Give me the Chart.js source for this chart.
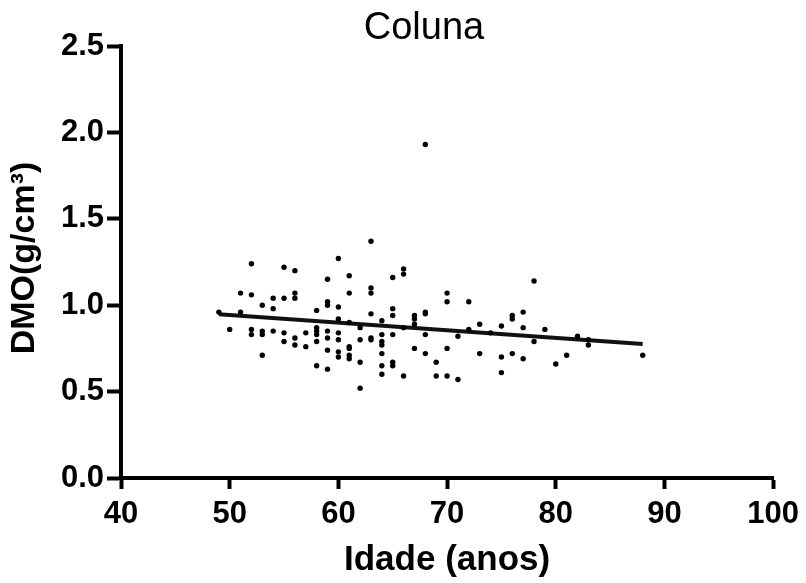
<!DOCTYPE html>
<html>
<head>
<meta charset="utf-8">
<script src="https://cdn.jsdelivr.net/npm/chart.js@4/dist/chart.umd.min.js"></script>
<style>
html,body{margin:0;padding:0;background:#fff;}
#wrap{width:806px;height:583px;position:relative;}
</style>
</head>
<body>
<div id="wrap"><canvas id="c" width="806" height="583"></canvas></div>
<script>
const title = "Coluna";
const xTitle = "Idade (anos)";
const yTitle = "DMO(g/cm³)";
const xTicks = [40, 50, 60, 70, 80, 90, 100];
const yTicks = [0.0, 0.5, 1.0, 1.5, 2.0, 2.5];

const age = [
  49, 50, 51, 51, 52, 52, 52, 52, 53, 53, 53, 53, 54, 54, 54,
  55, 55, 55, 55, 56, 56, 56, 56, 56, 57, 57,
  58, 58, 58, 58, 58, 58, 59, 59, 59, 59, 59, 59, 59,
  60, 60, 60, 60, 60, 60, 60, 61, 61, 61, 61, 61, 61, 61,
  62, 62, 62, 62, 63, 63, 63, 63, 63, 63,
  64, 64, 64, 64, 64, 64, 64, 65, 65, 65, 65, 65, 65,
  66, 66, 66, 66, 67, 67, 67, 67, 68, 68, 68, 68, 68,
  69, 69, 70, 70, 70, 70, 71, 71, 72, 72, 73, 73, 74,
  75, 75, 75, 76, 76, 76, 77, 77, 77, 78, 78, 79, 80, 81, 82, 83, 83, 88
];
const dmo = [
  0.96, 0.86, 1.07, 0.96, 1.24, 1.06, 0.86, 0.83, 1.00, 0.85, 0.83, 0.71, 0.98, 1.04, 0.85,
  1.22, 1.04, 0.84, 0.79, 1.20, 1.07, 1.04, 0.81, 0.77, 0.84, 0.76,
  0.97, 0.87, 0.85, 0.83, 0.79, 0.65, 1.15, 1.02, 1.00, 0.85, 0.81, 0.74, 0.63,
  1.27, 0.99, 0.92, 0.84, 0.80, 0.73, 0.70, 1.17, 1.07, 0.90, 0.76, 0.75, 0.71, 0.69,
  0.87, 0.80, 0.67, 0.52, 1.37, 1.10, 1.07, 0.95, 0.81, 0.80,
  0.91, 0.83, 0.79, 0.77, 0.72, 0.65, 0.60, 1.16, 0.98, 0.94, 0.83, 0.67, 0.65,
  1.21, 1.18, 0.87, 0.59, 0.94, 0.92, 0.89, 0.75, 1.93, 0.96, 0.95, 0.83, 0.72,
  0.67, 0.59, 1.07, 1.02, 0.75, 0.59, 0.82, 0.57, 1.02, 0.86, 0.89, 0.72, 0.84,
  0.88, 0.70, 0.61, 0.94, 0.92, 0.72, 0.96, 0.87, 0.69, 1.14, 0.79, 0.86, 0.66, 0.71, 0.82, 0.80, 0.77, 0.71
];
const fitX = [49, 88];
const fitY = [0.947, 0.775];

const points = age.map((a, i) => ({x: a, y: dmo[i]}));
const fitLine = fitX.map((a, i) => ({x: a, y: fitY[i]}));

const FONT = "'Liberation Sans', Arial, sans-serif";

const textPlugin = {
  id: 'texts',
  afterDraw(chart) {
    const ctx = chart.ctx;
    const a = chart.chartArea;
    ctx.save();
    ctx.fillStyle = '#000';
    ctx.textAlign = 'center';
    ctx.textBaseline = 'alphabetic';
    ctx.font = "38px " + FONT;
    ctx.fillText(title, 424, 39);
    ctx.font = "bold 35px " + FONT;
    ctx.fillText(xTitle, (a.left + a.right) / 2, 570);
    ctx.translate(34, 258);
    ctx.rotate(-Math.PI / 2);
    ctx.font = "bold 34px " + FONT;
    ctx.fillText(yTitle, 0, 0);
    ctx.restore();
  }
};

new Chart(document.getElementById('c'), {
  type: 'scatter',
  data: {
    datasets: [
      {
        label: 'DMO',
        data: points,
        pointRadius: 2.7,
        pointHoverRadius: 2.7,
        pointBackgroundColor: '#000',
        pointBorderColor: '#000',
        pointBorderWidth: 0,
        showLine: false
      },
      {
        label: 'fit',
        data: fitLine,
        showLine: true,
        borderColor: '#111',
        borderWidth: 4,
        pointRadius: 0,
        fill: false
      }
    ]
  },
  options: {
    responsive: false,
    animation: false,
    devicePixelRatio: 1,
    layout: { padding: { left: 0, right: 29, top: 46, bottom: 0 } },
    plugins: { legend: { display: false }, tooltip: { enabled: false }, title: { display: false } },
    scales: {
      x: {
        type: 'linear',
        min: 40, max: 100,
        afterFit(s) { s.height = 105; },
        afterBuildTicks(s) { s.ticks = xTicks.map(v => ({value: v})); },
        grid: { display: true, drawOnChartArea: false, drawTicks: true, tickLength: 11, tickWidth: 4, tickColor: '#000' },
        border: { display: true, width: 4, color: '#000' },
        ticks: { color: '#000', font: { family: FONT, size: 31, weight: 'bold' }, padding: 7, maxRotation: 0 }
      },
      y: {
        type: 'linear',
        min: 0, max: 2.5,
        afterFit(s) { s.width = 121; },
        afterBuildTicks(s) { s.ticks = yTicks.map(v => ({value: v})); },
        grid: { display: true, drawOnChartArea: false, drawTicks: true, tickLength: 14, tickWidth: 4, tickColor: '#000' },
        border: { display: true, width: 4, color: '#000' },
        ticks: { color: '#000', font: { family: FONT, size: 31, weight: 'bold' }, padding: 3,
          callback: v => Number(v).toFixed(1) }
      }
    }
  },
  plugins: [textPlugin]
});
</script>
</body>
</html>
